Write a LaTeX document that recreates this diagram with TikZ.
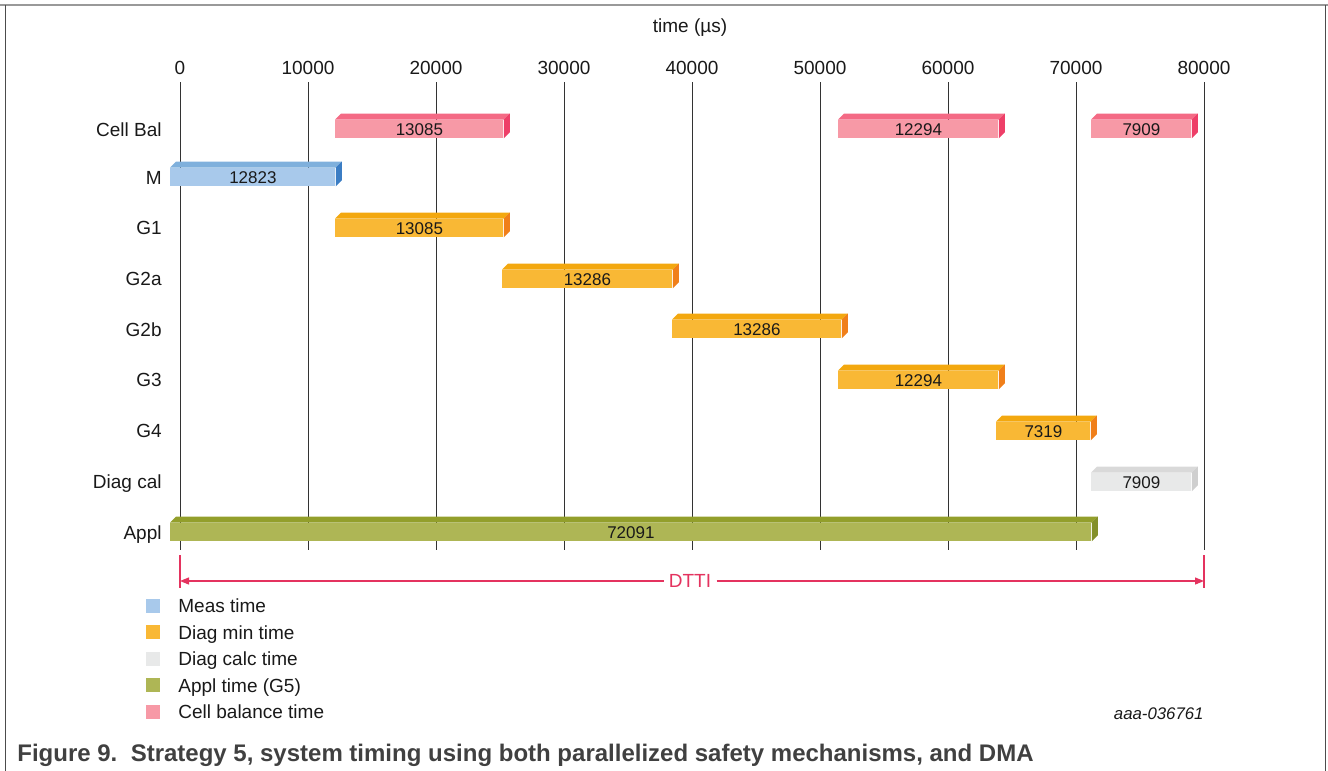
\documentclass[tikz,border=0pt]{standalone}
\usepackage{fontspec}
\setmainfont{Liberation Sans}
\usetikzlibrary{positioning,arrows.meta}

\definecolor{frontmeas}{HTML}{A8C9EB}
\definecolor{topmeas}{HTML}{7FB0DC}
\definecolor{sidemeas}{HTML}{3B7DC4}
\definecolor{frontdiag}{HTML}{F9B835}
\definecolor{topdiag}{HTML}{F3A80F}
\definecolor{sidediag}{HTML}{F07F1A}
\definecolor{frontcalc}{HTML}{E8E9E9}
\definecolor{topcalc}{HTML}{D9D9D9}
\definecolor{sidecalc}{HTML}{CFCFCF}
\definecolor{frontappl}{HTML}{AEB655}
\definecolor{topappl}{HTML}{939F2B}
\definecolor{sideappl}{HTML}{84902A}
\definecolor{frontbal}{HTML}{F799A6}
\definecolor{topbal}{HTML}{F46A85}
\definecolor{sidebal}{HTML}{EE3F68}
\definecolor{dttired}{HTML}{E4335F}

\begin{document}
\begin{tikzpicture}[x=0.5pt, y=-0.5pt,
    font=\fontsize{9.5}{11}\selectfont, text=black!90,
    txt/.style={inner sep=0pt, text height=8.5pt, text depth=1.7pt},
    grid/.style={draw=black!80, line width=0.5pt},
    rowlab/.style={txt, anchor=east},
    timebar/.style={anchor=west, inner sep=0pt, minimum height=9pt, text height=6.2pt, text depth=0pt,
        font=\fontsize{8.5}{10}\selectfont},
    legbox/.style={minimum size=7pt, inner sep=0pt, outer sep=0pt},
    legtext/.style={txt, right=9pt of #1},
    dtti/.style={draw=dttired, line width=0.6pt}]
    \useasboundingbox (0,0) rectangle (1328,771);

    % Frame
    \draw[black!40, line width=0.8pt] (0,5) -- (1328,5);
    \draw[black!70, line width=0.5pt] (5,5) -- (5,771);
    \draw[black!70, line width=0.5pt] (1325.5,5) -- (1325.5,771);

    % Time axis
    \node (axis) [txt] at (690,26) {time (\textmu s)};
    \foreach \i in {0,...,8} {
        \node (t\i) [txt] at (180+128*\i,68) {\the\numexpr\i*10000\relax};
        \draw[grid] (180+128*\i,82) -- (180+128*\i,550);
    }

    % Row labels
    \node (rcb) [rowlab] at (162,130) {Cell Bal};
    \node (rm) [rowlab] at (162,178) {M};
    \node (rg1) [rowlab] at (162,228) {G1};
    \node (rg2a) [rowlab] at (162,279) {G2a};
    \node (rg2b) [rowlab] at (162,330) {G2b};
    \node (rg3) [rowlab] at (162,380) {G3};
    \node (rg4) [rowlab] at (162,431) {G4};
    \node (rdc) [rowlab] at (162,482) {Diag cal};
    \node (rap) [rowlab] at (162,533) {Appl};

    % Bars (front faces)
    \node (cb1) [timebar, fill=frontbal, minimum width=84pt] at (335,129) {13085};
    \node (cb2) [timebar, fill=frontbal, minimum width=80pt] at (838,129) {12294};
    \node (cb3) [timebar, fill=frontbal, minimum width=50pt] at (1091,129) {7909};
    \node (m) [timebar, fill=frontmeas, minimum width=82.5pt] at (170,177) {12823};
    \node (g1) [timebar, fill=frontdiag, minimum width=84pt] at (335,228) {13085};
    \node (g2a) [timebar, fill=frontdiag, minimum width=85pt] at (502,279) {13286};
    \node (g2b) [timebar, fill=frontdiag, minimum width=84.5pt] at (672,329) {13286};
    \node (g3) [timebar, fill=frontdiag, minimum width=80pt] at (838,380) {12294};
    \node (g4) [timebar, fill=frontdiag, minimum width=47pt] at (996,431) {7319};
    \node (dc) [timebar, fill=frontcalc, minimum width=50pt] at (1091,482) {7909};
    \node (ap) [timebar, fill=frontappl, minimum width=460.5pt] at (170,532) {72091};

    % Top and side faces
    \foreach \b/\c in {cb1/bal, cb2/bal, cb3/bal, m/meas, g1/diag, g2a/diag,
                       g2b/diag, g3/diag, g4/diag, dc/calc, ap/appl} {
        \fill[top\c] (\b.north west) -- ++(6,-6) -- ([shift={(6,-6)}]\b.north east) -- (\b.north east) -- cycle;
        \fill[side\c] (\b.north east) -- ++(6,-6) -- ([shift={(6,-6)}]\b.south east) -- (\b.south east) -- cycle;
    }

    % DTTI span
    \coordinate (d0) at (180,581);
    \coordinate (d1) at (1204,581);
    \draw[dtti] (180,555) -- (180,588);
    \draw[dtti] (1204,555) -- (1204,588);
    \node (dtti) [text=dttired, fill=white, inner sep=2.5pt, font=\fontsize{9.5}{11}\selectfont] at (690,581) {DTTI};
    \draw[dtti, -{Triangle[length=4.5pt, width=3.5pt]}] (dtti) -- (d0);
    \draw[dtti, -{Triangle[length=4.5pt, width=3.5pt]}] (dtti) -- (d1);

    % Legend
    \node (lg1) [legbox, fill=frontmeas] at (153,606) {};
    \node (lg2) [legbox, fill=frontdiag, below=6.2pt of lg1] {};
    \node (lg3) [legbox, fill=frontcalc, below=6.2pt of lg2] {};
    \node (lg4) [legbox, fill=frontappl, below=6.2pt of lg3] {};
    \node (lg5) [legbox, fill=frontbal, below=6.2pt of lg4] {};
    \node (lt1) [legtext=lg1] {Meas time};
    \node (lt2) [legtext=lg2] {Diag min time};
    \node (lt3) [legtext=lg3] {Diag calc time};
    \node (lt4) [legtext=lg4] {Appl time (G5)};
    \node (lt5) [legtext=lg5] {Cell balance time};

    % Caption
    \node (id) [anchor=east, inner sep=0pt, font=\fontsize{8.4}{10}\selectfont\itshape] at (1204,714) {aaa-036761};
    \node (cap) [anchor=west, inner sep=0pt, text=black!75, font=\fontsize{12}{14}\selectfont\bfseries] at (17,755)
        {Figure 9.\ \ Strategy 5, system timing using both parallelized safety mechanisms, and DMA};
\end{tikzpicture}
\end{document}
